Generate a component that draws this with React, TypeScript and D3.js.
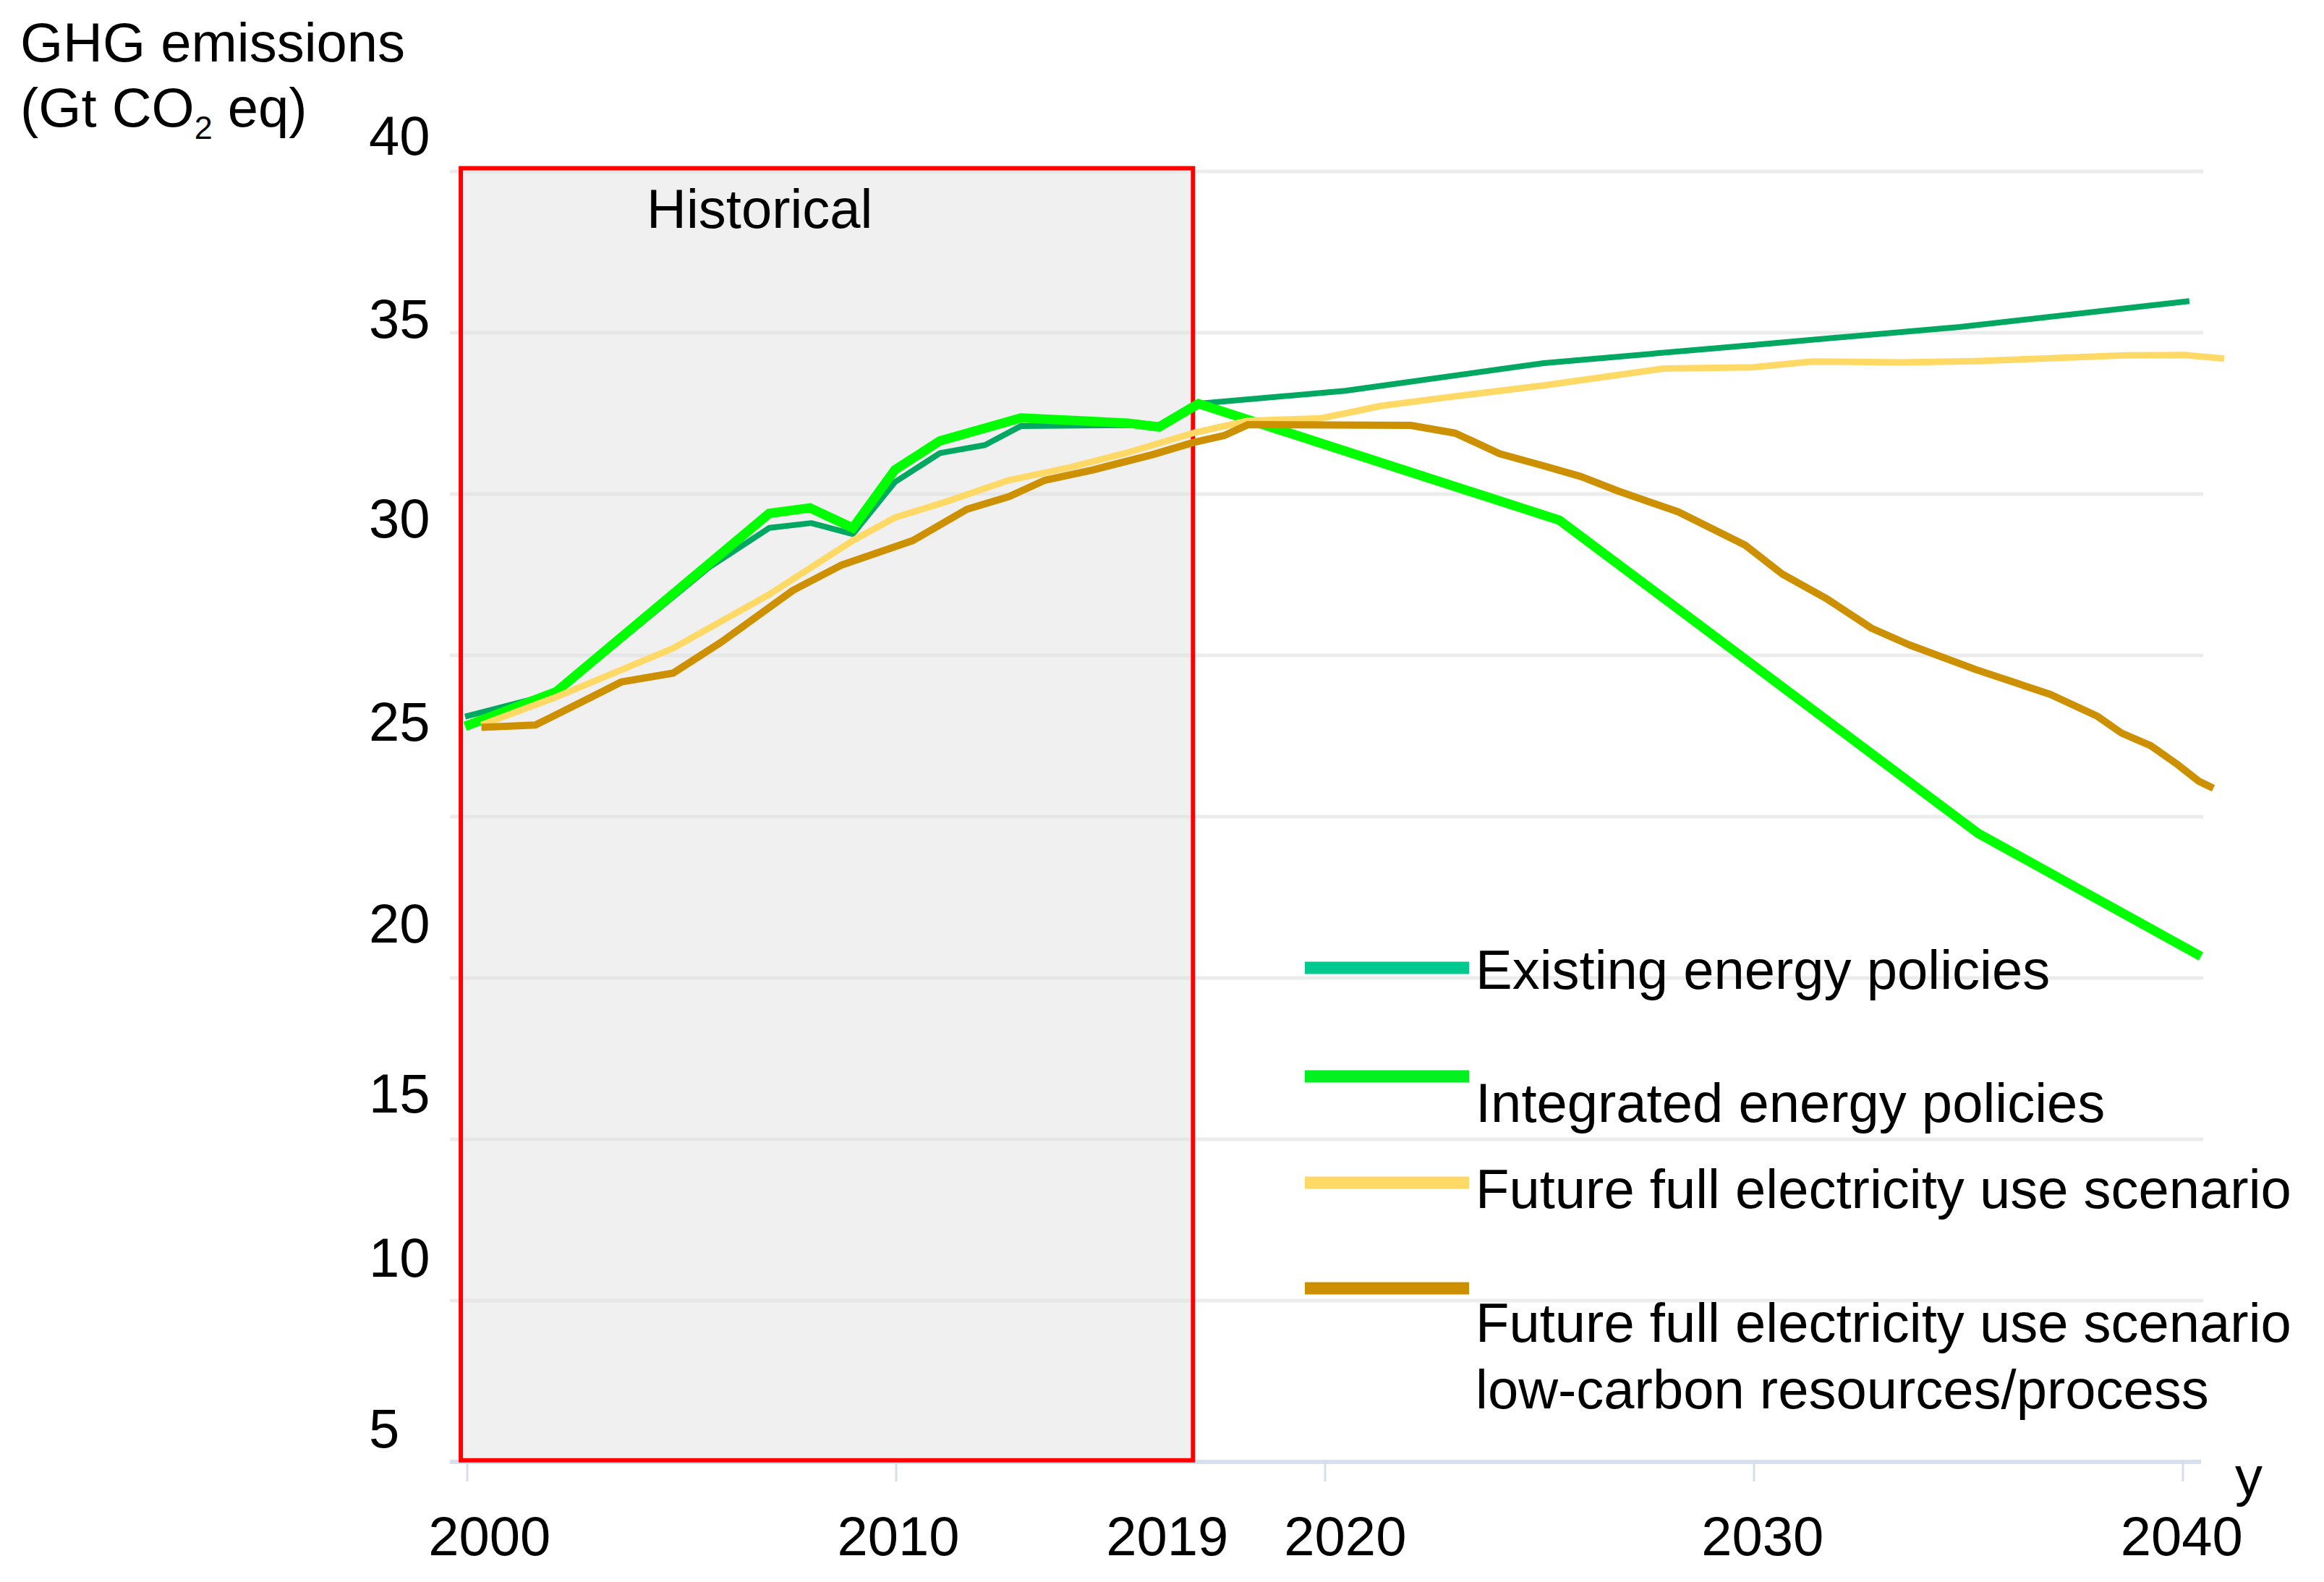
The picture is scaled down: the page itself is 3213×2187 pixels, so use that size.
import React from "react";
import * as d3 from "d3";

const W = 3213;
const H = 2187;

// [year, Gt CO2 eq]
const existingPolicies: [number, number][] = [
  [1999.95, 23.1], [2002.07, 23.83], [2005.64, 27.73], [2007.04, 28.95], [2008.02, 29.1],
  [2008.99, 28.76], [2009.97, 30.37], [2011.02, 31.27], [2012.07, 31.52], [2012.91, 32.11],
  [2016.13, 32.14], [2016.96, 32.79], [2020.47, 33.2], [2025.1, 34.06], [2029.97, 34.62],
  [2034.8, 35.18], [2040.15, 35.98],
];

const integratedPolicies: [number, number][] = [
  [1999.95, 22.8], [2002.07, 23.87], [2007.04, 29.4], [2007.99, 29.57], [2008.99, 28.95],
  [2009.97, 30.75], [2011.02, 31.65], [2012.91, 32.36], [2015.4, 32.2], [2016.13, 32.08],
  [2017.05, 32.8], [2025.46, 29.19], [2035.23, 19.48], [2040.42, 15.67],
];

const fullElectricity: [number, number][] = [
  [2000.33, 22.84], [2002.0, 23.67], [2004.8, 25.22], [2007.04, 26.89], [2008.99, 28.56],
  [2009.97, 29.27], [2011.23, 29.79], [2012.63, 30.43], [2014.03, 30.82], [2015.43, 31.3],
  [2016.95, 31.9], [2018.2, 32.27], [2019.9, 32.35], [2020.47, 32.5], [2021.29, 32.73],
  [2023.03, 33.03], [2025.11, 33.37], [2027.89, 33.89], [2029.97, 33.93], [2031.36, 34.11],
  [2033.44, 34.08], [2035.17, 34.12], [2036.91, 34.21], [2038.64, 34.3], [2040.03, 34.31],
  [2040.96, 34.2],
];

const fullElectricityLowCarbon: [number, number][] = [
  [2000.33, 22.77], [2001.59, 22.84], [2002.84, 23.67], [2003.6, 24.18], [2004.8, 24.45],
  [2005.92, 25.41], [2007.6, 27.02], [2008.71, 27.79], [2010.39, 28.56], [2011.65, 29.53],
  [2012.63, 29.92], [2013.47, 30.43], [2014.59, 30.75], [2015.97, 31.22], [2016.93, 31.6],
  [2017.66, 31.82], [2018.2, 32.15], [2021.99, 32.13], [2023.03, 31.89], [2024.07, 31.25],
  [2025.11, 30.87], [2025.97, 30.54], [2026.84, 30.09], [2028.23, 29.45], [2029.79, 28.42],
  [2030.66, 27.52], [2031.7, 26.75], [2032.74, 25.84], [2033.61, 25.33], [2035.17, 24.56],
  [2036.91, 23.79], [2038.01, 23.11], [2038.57, 22.59], [2039.25, 22.2], [2039.87, 21.62],
  [2040.37, 21.1], [2040.71, 20.88],
];

const seriesData = [existingPolicies, integratedPolicies, fullElectricity, fullElectricityLowCarbon];
const lineColors = ["#00a862", "#00ff00", "#ffd966", "#cc9000"];
const legendColors = ["#00c98f", "#00f020", "#ffd966", "#cc8f00"];
const lineWidths = [8, 13, 9, 10];
const legendLabels: string[][] = [
  ["Existing energy policies"],
  ["Integrated energy policies"],
  ["Future full electricity use scenario"],
  ["Future full electricity use scenario", "low-carbon resources/process"],
];

const gridValues = [5, 10, 15, 20, 25, 30, 35, 40];
const yTickLabels = ["40", "35", "30", "25", "20", "15", "10", "5"];
const yLabelAt = [41.13, 35.45, 29.27, 22.96, 16.7, 11.43, 6.34, 1.06];
const xTickValues = [2000, 2010, 2020, 2030, 2040];
const xTickLabels = ["2000", "2010", "2019", "2020", "2030", "2040"];
const xLabelAt = [2000.52, 2010.05, 2016.32, 2020.47, 2030.2, 2039.97];
const historicalRange = [1999.85, 2016.92];
const historicalValueRange = [0.05, 40.1];

const FONT = "'Liberation Sans', Arial, Helvetica, sans-serif";
const FS = 76;

export default function App() {
  const x = d3.scaleLinear().domain([2000, 2040]).range([646, 3018]);
  const y = d3.scaleLinear().domain([0, 40]).range([2021, 237]);
  const line = d3
    .line<[number, number]>()
    .x((d) => x(d[0]))
    .y((d) => y(d[1]));

  const gridX0 = x(2000) - 24;
  const gridX1 = x(2040) + 28;

  const legendY = [1338, 1488, 1635, 1781];
  const legendTextY = [1367, 1551, 1670, 1855];

  return (
    <svg
      width={W}
      height={H}
      viewBox={`0 0 ${W} ${H}`}
      style={{ position: "absolute", left: 0, top: 0, background: "#ffffff" }}
      fontFamily={FONT}
    >
      <rect x={0} y={0} width={W} height={H} fill="#ffffff" />

      {/* gridlines */}
      {gridValues.map((v) => (
        <line key={v} x1={gridX0} x2={gridX1} y1={y(v)} y2={y(v)} stroke="#ececec" strokeWidth={5} />
      ))}

      {/* historical box */}
      <rect
        x={x(historicalRange[0])}
        y={y(historicalValueRange[1])}
        width={x(historicalRange[1]) - x(historicalRange[0])}
        height={y(historicalValueRange[0]) - y(historicalValueRange[1])}
        fill="#f0f0f0"
      />
      {gridValues.map((v) => (
        <line
          key={"h" + v}
          x1={x(historicalRange[0])}
          x2={x(historicalRange[1])}
          y1={y(v)}
          y2={y(v)}
          stroke="#e6e6e6"
          strokeWidth={5}
        />
      ))}

      {/* x axis */}
      <line x1={gridX0} x2={gridX1 - 3} y1={y(0)} y2={y(0)} stroke="#d8e0ee" strokeWidth={6} />
      {xTickValues.map((t) => (
        <line key={t} x1={x(t)} x2={x(t)} y1={y(0)} y2={y(0) + 27} stroke="#d6deec" strokeWidth={3} />
      ))}

      <rect
        x={x(historicalRange[0])}
        y={y(historicalValueRange[1])}
        width={x(historicalRange[1]) - x(historicalRange[0])}
        height={y(historicalValueRange[0]) - y(historicalValueRange[1])}
        fill="none"
        stroke="#ff0000"
        strokeWidth={6}
      />

      <text x={894} y={315} fontSize={FS} fill="#000">
        Historical
      </text>

      {/* series lines */}
      {seriesData.map((d, i) => (
        <path
          key={i}
          d={line(d) || ""}
          fill="none"
          stroke={lineColors[i]}
          strokeWidth={lineWidths[i]}
          strokeLinejoin={i === 1 ? "miter" : "round"}
          strokeLinecap="butt"
        />
      ))}

      {/* y tick labels */}
      {yTickLabels.map((lab, i) => (
        <text key={lab} x={510} y={y(yLabelAt[i]) + FS * 0.358} fontSize={FS} fill="#000">
          {lab}
        </text>
      ))}

      {/* x tick labels */}
      {xTickLabels.map((lab, i) => (
        <text key={lab} x={x(xLabelAt[i])} y={2150} fontSize={FS} textAnchor="middle" fill="#000">
          {lab}
        </text>
      ))}
      <text x={3090} y={2067} fontSize={FS} fill="#000">
        y
      </text>

      {/* y axis title */}
      <text x={28} y={85} fontSize={FS} fill="#000">
        GHG emissions
      </text>
      <text x={28} y={175} fontSize={FS} fill="#000">
        (Gt CO
        <tspan fontSize={45} dy={17}>
          2
        </tspan>
        <tspan dy={-17}> eq)</tspan>
      </text>

      {/* legend */}
      {legendLabels.map((lines, i) => (
        <g key={i}>
          <line x1={1804} x2={2031} y1={legendY[i]} y2={legendY[i]} stroke={legendColors[i]} strokeWidth={17} />
          {lines.map((t, j) => (
            <text key={j} x={2040} y={legendTextY[i] + j * 92} fontSize={FS} fill="#000">
              {t}
            </text>
          ))}
        </g>
      ))}
    </svg>
  );
}
